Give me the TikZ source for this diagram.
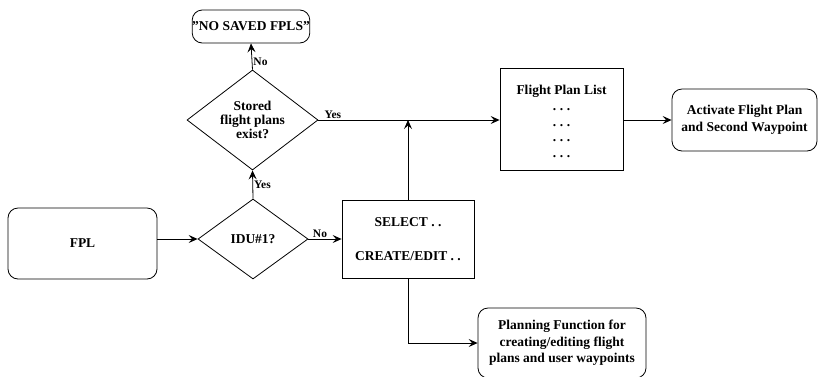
\documentclass[tikz,border=0pt]{standalone}
\usepackage{fontspec}
\setmainfont{Liberation Serif}
\usetikzlibrary{shapes.geometric,arrows.meta}
\newcommand{\listdots}{.\hspace{3.6pt}.\hspace{3.6pt}.}
\begin{document}
\begin{tikzpicture}[x=1pt,y=-1pt,
  every node/.style={font=\bfseries\fontsize{13.5}{16.5}\selectfont},
  rbox/.style={draw,rounded corners=10pt,line width=0.8pt,align=center,inner sep=0pt},
  sbox/.style={draw,line width=0.8pt,align=center,inner sep=0pt},
  dec/.style={draw,diamond,line width=0.8pt,align=center,inner sep=0pt},
  flow/.style={line width=0.8pt,-{Stealth[length=9pt,width=8pt,inset=3.5pt]}},
  lbl/.style={font=\bfseries\fontsize{11.5}{13}\selectfont,inner sep=1pt}]
\useasboundingbox (0,0) rectangle (822,376);

% process boxes
\node[rbox,minimum width=149pt,minimum height=71pt] (fpl) at (82.5,243.5) {FPL};
\node[rbox,minimum width=114pt,minimum height=33pt] (nosaved) at (251,26.5)
  {\char"22 NO SAVED FPLS\char"22};
\node[sbox,minimum width=132pt,minimum height=78pt] (select) at (408,239) {};
\node at (408,222) {SELECT . .};
\node at (408,256) {CREATE/EDIT . .};
\node[sbox,minimum width=123pt,minimum height=102pt] (list) at (561.5,119) {};
\node[align=center,font=\bfseries\fontsize{13.5}{15.6}\selectfont] at (561.5,121.5)
  {Flight Plan List\\\listdots\\\listdots\\\listdots\\\listdots};
\node[rbox,minimum width=145pt,minimum height=62pt] (activate) at (744.5,120)
  {Activate Flight Plan\\and Second Waypoint};
\node[rbox,minimum width=168pt,minimum height=70pt] (planning) at (562,343)
  {Planning Function for\\creating/editing flight\\plans and user waypoints};

% decisions
\node[dec,minimum width=110pt,minimum height=80pt,aspect=1.375] (idu) at (253,239) {};
\node at (253,239) {IDU\#1?};
\node[dec,minimum width=131pt,minimum height=100pt,aspect=1.31] (stored) at (252.5,120) {};
\node[align=center,font=\bfseries\fontsize{13.5}{14}\selectfont] at (252.5,120) {Stored\\flight plans\\exist?};

% helper points on the flow lines
\coordinate (join) at (select.north |- stored.east);
\coordinate (down) at (select.south |- planning.west);

% connectors
\draw[flow] (fpl.east |- idu.west) -- (idu.west);
\draw[flow] (idu.east) -- node[lbl,above,pos=0.35] {No} (select.west);
\draw[flow] (idu.north) -- node[lbl,right,pos=0.5] {Yes} (stored.south);
\draw[flow] (stored.north) -- node[lbl,right,pos=0.3] {No} (nosaved.south);
\draw[flow] (stored.east) -- node[lbl,above,pos=0.08] {Yes} (list.west |- stored.east);
\draw[flow] (select.north) -- (join);
\draw[flow] (list.east |- activate.west) -- (activate.west);
\draw[flow] (select.south) -- (down) -- (planning.west);
\end{tikzpicture}
\end{document}
